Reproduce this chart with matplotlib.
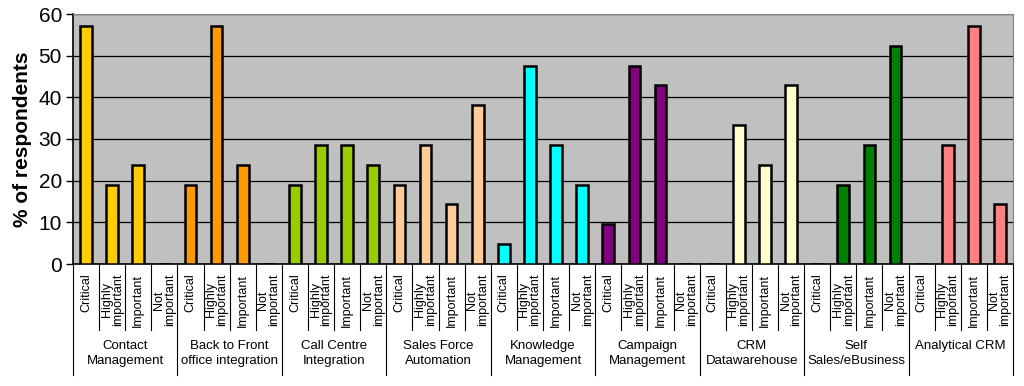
import numpy as np
import matplotlib
matplotlib.use("Agg")
import matplotlib.pyplot as plt
import matplotlib.transforms as mtransforms

plt.rcParams['font.family'] = ['Liberation Sans', 'DejaVu Sans']

groups = ["Contact\nManagement", "Back to Front\noffice integration", "Call Centre\nIntegration",
          "Sales Force\nAutomation", "Knowledge\nManagement", "Campaign\nManagement",
          "CRM\nDatawarehouse", "Self\nSales/eBusiness", "Analytical CRM\n"]
levels = ["Critical", "Highly\nimportant", "Important", "Not\nimportant"]

contact = [57.1, 19.0, 23.8, 0]
back_front = [19.0, 57.1, 23.8, 0]
call_centre = [19.0, 28.6, 28.6, 23.8]
sales_force = [19.0, 28.6, 14.3, 38.1]
knowledge = [4.8, 47.6, 28.6, 19.0]
campaign = [9.5, 47.6, 42.9, 0]
crm_dw = [0, 33.3, 23.8, 42.9]
self_sales = [0, 19.0, 28.6, 52.4]
analytical = [0, 28.6, 57.1, 14.3]

series = [contact, back_front, call_centre, sales_force, knowledge,
          campaign, crm_dw, self_sales, analytical]
colors = ["#FFCC00", "#FF9900", "#99CC00", "#FFCC99", "#00FFFF",
          "#800080", "#FFFFCC", "#008000", "#FF8080"]

fig = plt.figure(figsize=(10.24, 3.86), dpi=100)
ax = fig.add_axes([73 / 1024, 1 - 264 / 386, 940 / 1024, 250 / 386])
ax.set_facecolor("#C0C0C0")

n = len(levels)
for g, (vals, col) in enumerate(zip(series, colors)):
    x = np.arange(n) + g * n
    ax.bar(x, vals, width=0.45, color=col, edgecolor="black", linewidth=1.8, zorder=3)

ax.set_xlim(-0.5, len(groups) * n - 0.5)
ax.set_ylim(0, 60)
ax.set_yticks(range(0, 61, 10))
ax.yaxis.grid(True, color="black", linewidth=0.9, zorder=1)
ax.set_axisbelow(True)

for s in ["top", "right"]:
    ax.spines[s].set_color("#808080")
ax.spines["left"].set_color("black")
ax.spines["bottom"].set_color("black")
ax.spines["left"].set_linewidth(1.2)
ax.spines["bottom"].set_linewidth(1.2)

ax.tick_params(axis="y", direction="out", length=5, width=1, labelsize=15, pad=3)
ax.set_ylabel("% of respondents", fontsize=15, fontweight="bold", labelpad=5)

ax.set_xticks(np.arange(len(groups) * n))
ax.set_xticklabels(levels * len(groups), rotation=90, fontsize=9,
                   multialignment="center", linespacing=0.9)
ax.tick_params(axis="x", length=0, pad=7)

trans = mtransforms.blended_transform_factory(ax.transData, ax.transAxes)
for b in range(len(groups) * n + 1):
    xb = b - 0.5
    y_end = -0.445 if b % n == 0 else -0.265
    ax.plot([xb, xb], [0, y_end], color="black", linewidth=0.8,
            transform=trans, clip_on=False)

for g, name in enumerate(groups):
    ax.text(g * n + (n - 1) / 2, -0.305, name, transform=trans, ha="center",
            va="top", fontsize=9.5, linespacing=1.35)

fig.savefig("out.png", dpi=100)
